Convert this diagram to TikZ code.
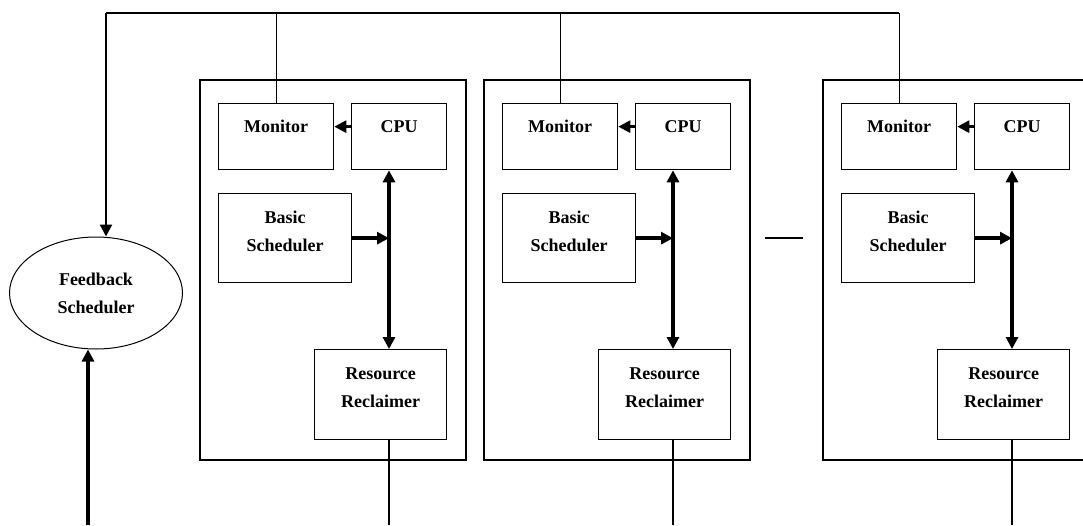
\documentclass[tikz,border=0pt]{standalone}
\usepackage{fontspec}
\setmainfont{Liberation Serif}
\usetikzlibrary{arrows.meta,shapes.geometric,calc}
\begin{document}
\begin{tikzpicture}[x=1pt,y=-1pt,
  box/.style={draw,line width=1.3pt,inner sep=0pt,anchor=north west},
  txt/.style={font=\bfseries\fontsize{18}{28}\selectfont,align=center,inner sep=0pt,anchor=north},
  wire/.style={line width=1.3pt},
  bus/.style={line width=3.5pt},
  >={Triangle[length=12pt,width=12pt]}]
\useasboundingbox (0,0) rectangle (1083,525);
\clip (0,0) rectangle (1083,525);

% feedback scheduler
\node[ellipse,draw,line width=1pt,minimum width=173pt,minimum height=112pt,inner sep=0pt,
      font=\bfseries\fontsize{18}{28}\selectfont,align=center] (fb) at (96,293) {Feedback\\Scheduler};
\coordinate (tl) at (106,13);
\coordinate (fbin) at (88,525);

\foreach \i/\ox in {1/200,2/484,3/823}{
  \draw[wire] (\ox,80) rectangle ++(266,380);
  \node[box,minimum width=115pt,minimum height=66pt] (mon\i) at (\ox+18,103) {};
  \node[box,minimum width=95pt,minimum height=66pt] (cpu\i) at (\ox+151,103) {};
  \node[box,minimum width=133pt,minimum height=89pt] (bs\i) at (\ox+18,193) {};
  \node[box,minimum width=132pt,minimum height=90pt] (rr\i) at (\ox+114,349) {};
  \node[txt] (tmon\i) at ([yshift=-17pt]mon\i.north) {Monitor};
  \node[txt] (tcpu\i) at ([yshift=-17pt]cpu\i.north) {CPU};
  \node[txt] (tbs\i) at ([yshift=-18pt]bs\i.north) {Basic\\Scheduler};
  \node[txt] (trr\i) at ([yshift=-19pt]rr\i.north) {Resource\\Reclaimer};
  \coordinate (v\i) at (\ox+189,0);
  \draw[bus,<->] (v\i |- cpu\i.south) -- (v\i |- rr\i.north);
  \draw[bus,->] (bs\i.east) -- (bs\i.east -| v\i);
  \draw[line width=2.6pt,->] ([yshift=10pt]cpu\i.west) -- ([yshift=10pt]mon\i.east);
  \draw[wire] (v\i |- rr\i.south) -- (v\i |- 0,525);
  \draw[wire] (mon\i.north) -- (mon\i.north |- tl);
}

% top feedback bus
\draw[wire] (tl) -- (mon3.north |- tl);
\draw[line width=2.2pt,->] (tl) -- (tl |- fb.north);
\draw[bus,->] (fbin) -- (fbin |- fb.south);

% ellipsis between blocks
\draw[line width=1.2pt] (765,238) -- (803,238);
\end{tikzpicture}
\end{document}
